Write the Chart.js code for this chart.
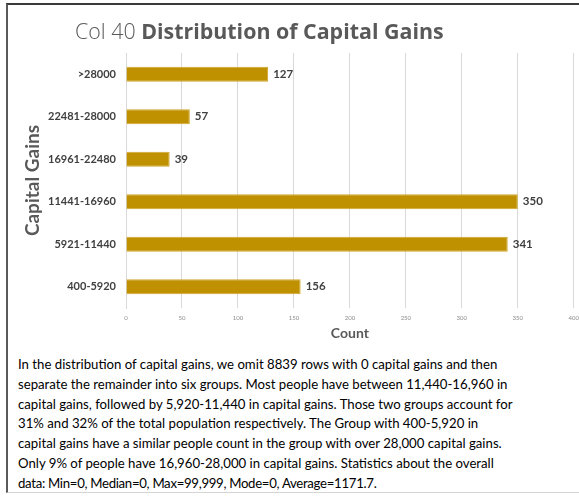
<!DOCTYPE html>
<html>
<head>
<meta charset="utf-8">
<script src="https://cdn.jsdelivr.net/npm/chart.js@4"></script>
<style>
  body { margin: 0; background: #fff; width: 579px; height: 497px; overflow: hidden; position: relative; font-family: Lato, "Open Sans", sans-serif; }
  #frame { position: absolute; left: 6px; top: 3px; width: 573px; height: 490px; border-top: 2px solid #3a3a3a; border-left: 2px solid #5a5a5a; border-bottom: 1px solid #d4d4d4; box-sizing: border-box; }
  #title { position: absolute; left: 75px; top: 16px; font-family: "Open Sans", sans-serif; font-size: 21.4px; line-height: 30px; color: #595959; white-space: nowrap; }
  #title span { font-weight: 300; }
  #title b { font-weight: 700; }
  #wrap { position: absolute; left: 0; top: 0; width: 585px; height: 350px; }
  #note { position: absolute; left: 18px; top: 355px; font-size: 13.2px; line-height: 19.8px; color: #000; white-space: nowrap; }
  #note .dg { letter-spacing: -0.3px; }
</style>
</head>
<body>
<div id="frame"></div>
<div id="wrap"><canvas id="capitalChart"></canvas></div>
<div id="title"><span>Col 40</span> <b>Distribution of Capital Gains</b></div>
<div id="note">
In the distribution of capital gains, we omit 8839 rows with 0 capital gains and then<br>
separate the remainder into six groups. Most people have between 11,440-16,960 in<br>
capital gains, followed by 5,920-11,440 in capital gains. Those two groups account for<br>
31% and 32% of the total population respectively. The Group with 400-5,920 in<br>
capital gains have a similar people count in the group with over 28,000 capital gains.<br>
Only 9% of people have 16,960-28,000 in capital gains. Statistics about the overall<br>
<span class="dg">data: Min=0, Median=0, Max=99,999, Mode=0, Average=1171.7.</span>
</div>
<script>
var groups = ['>28000', '22481-28000', '16961-22480', '11441-16960', '5921-11440', '400-5920'];
var counts = [127, 57, 39, 350, 341, 156];
var countTicks = [0, 50, 100, 150, 200, 250, 300, 350, 400];

// value labels to the right of each bar
var valueLabels = {
    id: 'valueLabels',
    afterDatasetsDraw: function (chart) {
        var ctx = chart.ctx;
        var meta = chart.getDatasetMeta(0);
        ctx.save();
        ctx.font = 'bold 11.5px Lato, "Open Sans", sans-serif';
        ctx.fillStyle = '#404040';
        ctx.textAlign = 'left';
        ctx.textBaseline = 'middle';
        meta.data.forEach(function (bar, i) {
            ctx.fillText(counts[i], bar.x + 5, bar.y);
        });
        ctx.restore();
    }
};

var ctx = document.getElementById('capitalChart').getContext('2d');
var capitalChart = new Chart(ctx, {
    type: 'bar',
    data: {
        labels: groups,
        datasets: [{
            label: 'Count',
            data: counts,
            backgroundColor: '#BF9000',
            borderColor: '#CFA52A',
            borderWidth: 1,
            barPercentage: 0.35,
            categoryPercentage: 1.0
        }]
    },
    options: {
        indexAxis: 'y',
        responsive: true,
        maintainAspectRatio: false,
        animation: false,
        layout: { padding: { top: 53, left: 20, right: 6, bottom: 0 } },
        plugins: {
            legend: { display: false },
            tooltip: { enabled: false }
        },
        scales: {
            x: {
                min: 0,
                max: 400,
                afterBuildTicks: function (scale) {
                    scale.ticks = countTicks.map(function (v) { return { value: v }; });
                },
                afterFit: function (scale) { scale.height = 42; },
                grid: { color: '#d9d9d9', drawTicks: false },
                border: { display: false },
                ticks: {
                    padding: 6,
                    font: { size: 6, family: 'Lato, "Open Sans", sans-serif' },
                    color: '#8c8c8c',
                    maxRotation: 0
                },
                title: {
                    display: true,
                    text: 'Count',
                    color: '#595959',
                    font: { size: 14, weight: 'bold', family: 'Lato, "Open Sans", sans-serif' },
                    padding: { top: 0, bottom: 8.5 }
                }
            },
            y: {
                afterFit: function (scale) { scale.width = 106; },
                grid: { display: false, drawTicks: false },
                border: { color: '#d9d9d9' },
                ticks: {
                    padding: 10,
                    font: { size: 11, weight: 'bold', family: 'Lato, "Open Sans", sans-serif' },
                    color: '#404040'
                },
                title: {
                    display: true,
                    text: 'Capital Gains',
                    color: '#595959',
                    font: { size: 19, weight: 'bold', family: 'Lato, "Open Sans", sans-serif' },
                    padding: { top: 1.6, bottom: 0 }
                }
            }
        }
    },
    plugins: [valueLabels]
});
</script>
</body>
</html>
